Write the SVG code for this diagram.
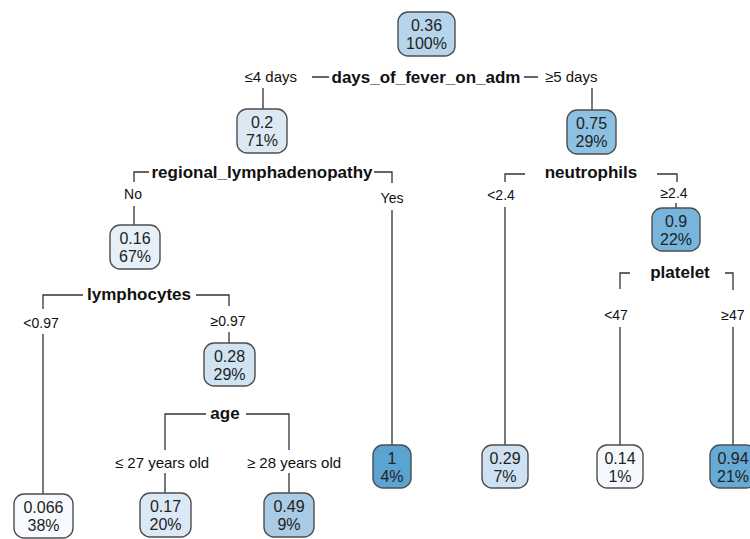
<svg xmlns="http://www.w3.org/2000/svg" width="750" height="539" viewBox="0 0 750 539">
<style>
.bx{stroke:#4d4d4d;stroke-width:1.4}
.nt{font-family:"Liberation Sans",Arial,sans-serif;font-size:16px;fill:#222;text-anchor:middle}
.sp{font-family:"Liberation Sans",Arial,sans-serif;font-size:17px;font-weight:bold;fill:#111;text-anchor:middle}
.bl{font-family:"Liberation Sans",Arial,sans-serif;font-size:14px;fill:#111;text-anchor:middle}
.ln{fill:none;stroke:#333;stroke-width:1.3}
</style>
<rect width="750" height="539" fill="#fff"/>
<g id="connectors">
<path class="ln" d="M312 77H329M524 77H538"/>
<path class="ln" d="M263 88V109M592 88V110"/>
<path class="ln" d="M149 172H134V182M374 172H392V183"/>
<path class="ln" d="M134 206V225M392 210V445"/>
<path class="ln" d="M83 295H43V309M196 295H229V306"/>
<path class="ln" d="M43 334V494M229 332V343"/>
<path class="ln" d="M206 414H165V450M246 414H289V450"/>
<path class="ln" d="M165 473V493M289 473V493"/>
<path class="ln" d="M525 174H505V182M657 174H677V182"/>
<path class="ln" d="M505 207V445M676 203V208"/>
<path class="ln" d="M630 273H620V289M725 273H733V290"/>
<path class="ln" d="M620 327V445M733 327V445"/>
</g>
<g id="labels">
<text class="bl" x="297" y="82" style="text-anchor:end;font-size:15px">≤4 days</text>
<text class="sp" x="426" y="83">days_of_fever_on_adm</text>
<text class="bl" x="545" y="82" style="text-anchor:start;font-size:15px">≥5 days</text>
<text class="sp" x="262" y="178">regional_lymphadenopathy</text>
<text class="bl" x="133" y="199">No</text>
<text class="bl" x="392" y="203">Yes</text>
<text class="sp" x="139" y="300">lymphocytes</text>
<text class="bl" x="41" y="328">&lt;0.97</text>
<text class="bl" x="228" y="326">≥0.97</text>
<text class="sp" x="225" y="419">age</text>
<text class="bl" x="162" y="468" style="font-size:15px">≤ 27 years old</text>
<text class="bl" x="294" y="468" style="font-size:15px">≥ 28 years old</text>
<text class="sp" x="591" y="178">neutrophils</text>
<text class="bl" x="501" y="200">&lt;2.4</text>
<text class="bl" x="674" y="198">≥2.4</text>
<text class="sp" x="680" y="278">platelet</text>
<text class="bl" x="616" y="320">&lt;47</text>
<text class="bl" x="733" y="320">≥47</text>
</g>
<g id="n1"><rect class="bx" x="398" y="12" width="57" height="44" rx="10" fill="#b6d5eb"/><text class="nt" x="426.5" y="31">0.36</text><text class="nt" x="426.5" y="49">100%</text></g>
<g id="n2"><rect class="bx" x="237" y="109" width="50" height="44" rx="10" fill="#dce9f5"/><text class="nt" x="262" y="128">0.2</text><text class="nt" x="262" y="146">71%</text></g>
<g id="n3"><rect class="bx" x="567" y="110" width="49" height="44" rx="10" fill="#8dc1e1"/><text class="nt" x="591.5" y="129">0.75</text><text class="nt" x="591.5" y="147">29%</text></g>
<g id="n4"><rect class="bx" x="110" y="225" width="50" height="44" rx="10" fill="#e7f0f9"/><text class="nt" x="135" y="244">0.16</text><text class="nt" x="135" y="262">67%</text></g>
<g id="n5"><rect class="bx" x="652" y="208" width="48" height="43" rx="10" fill="#77b5dd"/><text class="nt" x="676" y="227">0.9</text><text class="nt" x="676" y="245">22%</text></g>
<g id="n6"><rect class="bx" x="204" y="343" width="51" height="43" rx="10" fill="#d0e3f3"/><text class="nt" x="229.5" y="362">0.28</text><text class="nt" x="229.5" y="380">29%</text></g>
<g id="n7"><rect class="bx" x="14" y="494" width="59" height="44" rx="10" fill="#f7fbff"/><text class="nt" x="43.5" y="513">0.066</text><text class="nt" x="43.5" y="531">38%</text></g>
<g id="n8"><rect class="bx" x="140" y="493" width="51" height="44" rx="10" fill="#dbe8f5"/><text class="nt" x="165.5" y="512">0.17</text><text class="nt" x="165.5" y="530">20%</text></g>
<g id="n9"><rect class="bx" x="264" y="493" width="50" height="44" rx="10" fill="#a9cbe5"/><text class="nt" x="289" y="512">0.49</text><text class="nt" x="289" y="530">9%</text></g>
<g id="n10"><rect class="bx" x="373" y="445" width="38" height="43" rx="10" fill="#5ba3d0"/><text class="nt" x="392" y="464">1</text><text class="nt" x="392" y="482">4%</text></g>
<g id="n11"><rect class="bx" x="482" y="445" width="46" height="43" rx="10" fill="#cde1f2"/><text class="nt" x="505" y="464">0.29</text><text class="nt" x="505" y="482">7%</text></g>
<g id="n12"><rect class="bx" x="597" y="445" width="46" height="43" rx="10" fill="#f5f9fd"/><text class="nt" x="620" y="464">0.14</text><text class="nt" x="620" y="482">1%</text></g>
<g id="n13"><rect class="bx" x="710" y="445" width="46" height="43" rx="10" fill="#66aad6"/><text class="nt" x="733" y="464">0.94</text><text class="nt" x="733" y="482">21%</text></g>
</svg>
